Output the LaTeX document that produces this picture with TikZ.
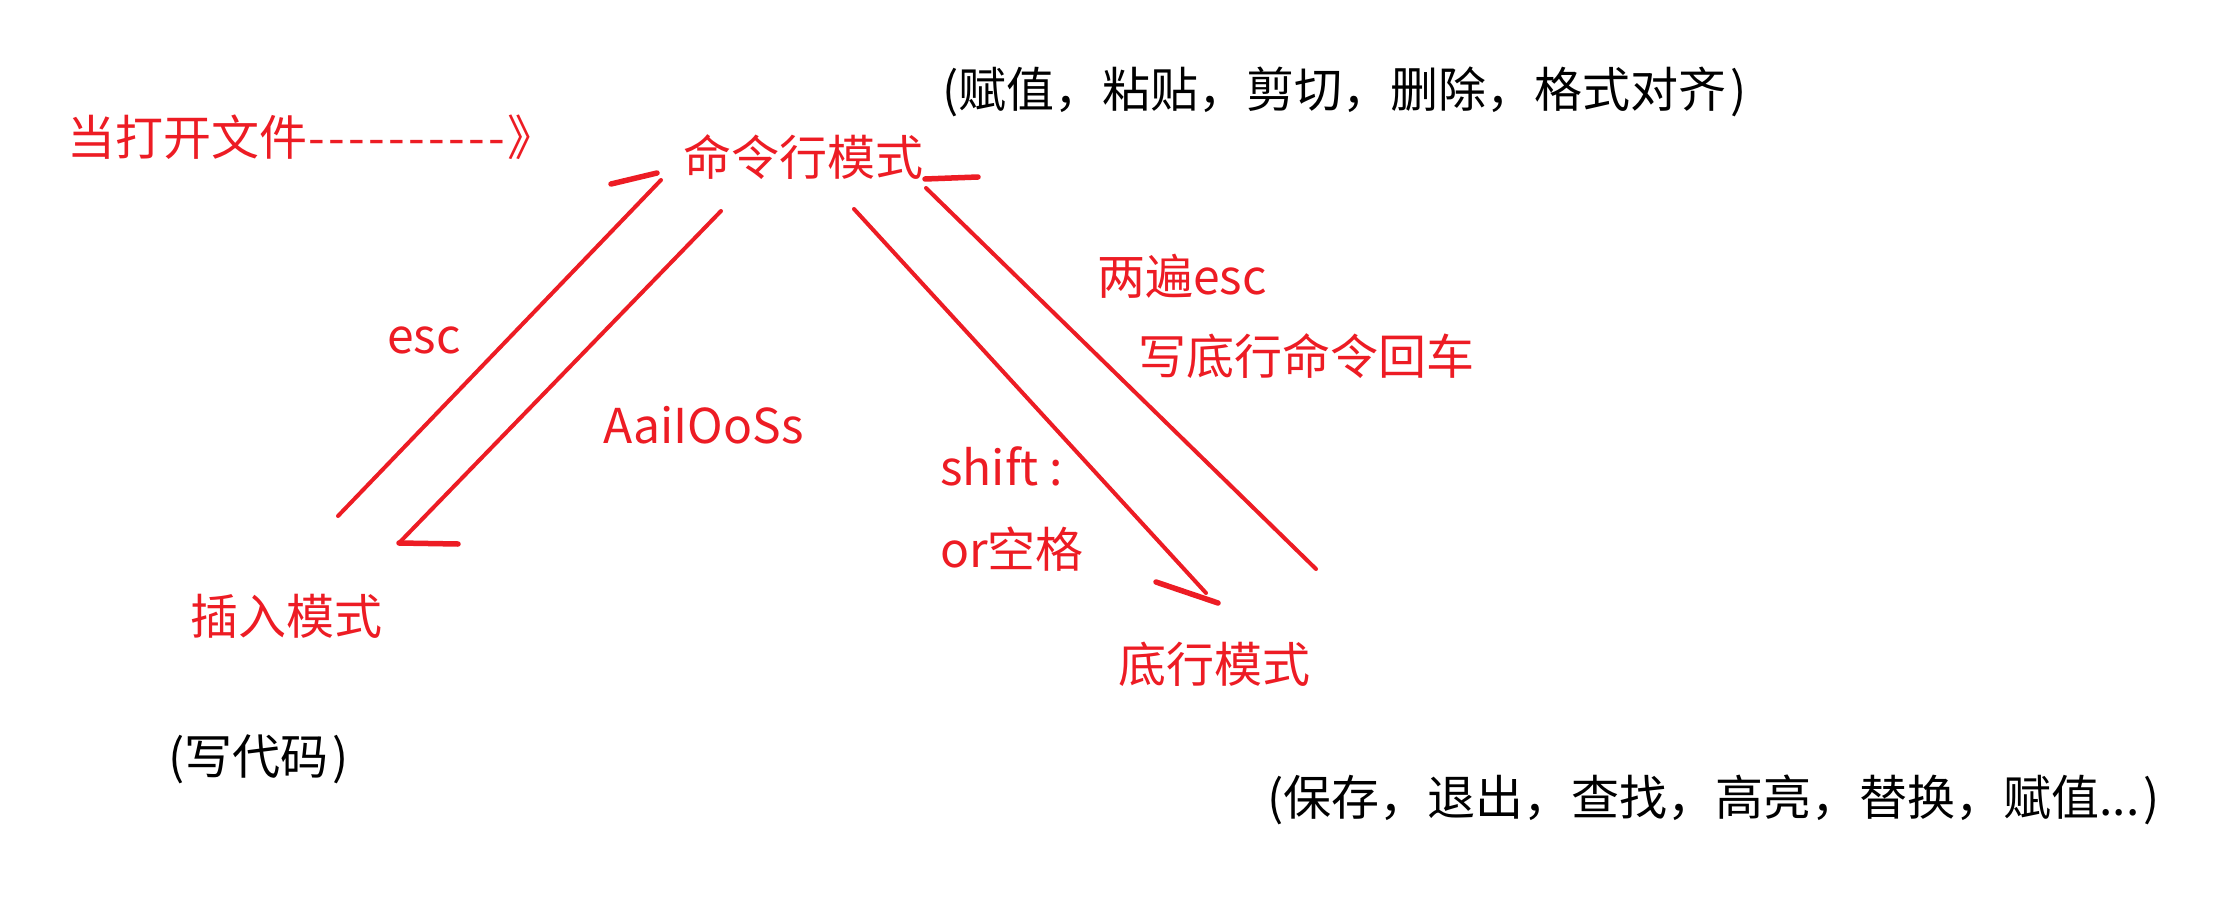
\documentclass[tikz,border=0pt]{standalone}
\usepackage{fontspec}
\newfontfamily\cjk{Noto Sans CJK SC}
\definecolor{penred}{RGB}{237,28,36}
\newcommand\dashpiece{\makebox[20pt]{-}}
\begin{document}
\begin{tikzpicture}[x=1pt,y=-1pt,
  redtxt/.style={text=penred, font=\cjk\fontsize{48}{56}\selectfont, inner sep=0pt, anchor=base west},
  blktxt/.style={text=black, font=\cjk\fontsize{48}{56}\selectfont, inner sep=0pt, anchor=base west},
  stroke/.style={draw=penred, line width=4pt, line cap=round, line join=round},
  hookline/.style={draw=penred, line width=5.5pt, line cap=round}]
\useasboundingbox[fill=white] (0,0) rectangle (2238,907);

% texts
\node[redtxt] (open) at (67,155) {当打开文件\dashpiece\dashpiece\dashpiece\dashpiece\dashpiece\dashpiece\dashpiece\dashpiece\dashpiece\dashpiece》};
\node[redtxt] (cmd) at (683,175) {命令行模式};
\node[blktxt] (cmdnote) at (942,107) {(赋值，粘贴，剪切，删除，格式对齐\kern4pt)};
\node[redtxt] (esc) at (387,353) {esc};
\node[redtxt] (aio) at (603,443) {AaiIOoSs};
\node[redtxt] (ins) at (190,634) {插入模式};
\node[blktxt] (insnote) at (168,774) {(写代码\kern4pt)};
\node[redtxt] (shift) at (940,485) {shift :};
\node[redtxt] (orsp) at (940,567) {or空格};
\node[redtxt] (twoesc) at (1097,294) {两遍esc};
\node[redtxt] (write) at (1138,374) {写底行命令回车};
\node[redtxt] (last) at (1118,682) {底行模式};
\node[blktxt] (lastnote) at (1267,815) {(保存，退出，查找，高亮，替换，赋值...\kern4pt)};

% stroke end points
\coordinate (a0) at (338,516);
\coordinate (a1) at (661,180);
\coordinate (ah0) at (611,184);
\coordinate (ah1) at (657,173);
\coordinate (b0) at (721,211);
\coordinate (b1) at (399,543);
\coordinate (b2) at (458,544);
\coordinate (c0) at (854,209);
\coordinate (c1) at (1206,593);
\coordinate (ch0) at (1156,582);
\coordinate (ch1) at (1218,603);
\coordinate (d0) at (1316,569);
\coordinate (d1) at (926,188);
\coordinate (dh0) at (925,179);
\coordinate (dh1) at (978,177);

% esc: insert -> command
\draw[stroke] (a0) -- (a1);
\draw[hookline] (ah0) -- (ah1);
% AaiIOoSs: command -> insert
\draw[stroke] (b0) -- (b1);
\draw[hookline] (b1) -- (b2);
% shift : -> last line
\draw[stroke] (c0) -- (c1);
\draw[hookline] (ch0) -- (ch1);
% two esc: last line -> command
\draw[stroke] (d0) -- (d1);
\draw[hookline] (dh0) -- (dh1);
\end{tikzpicture}
\end{document}
